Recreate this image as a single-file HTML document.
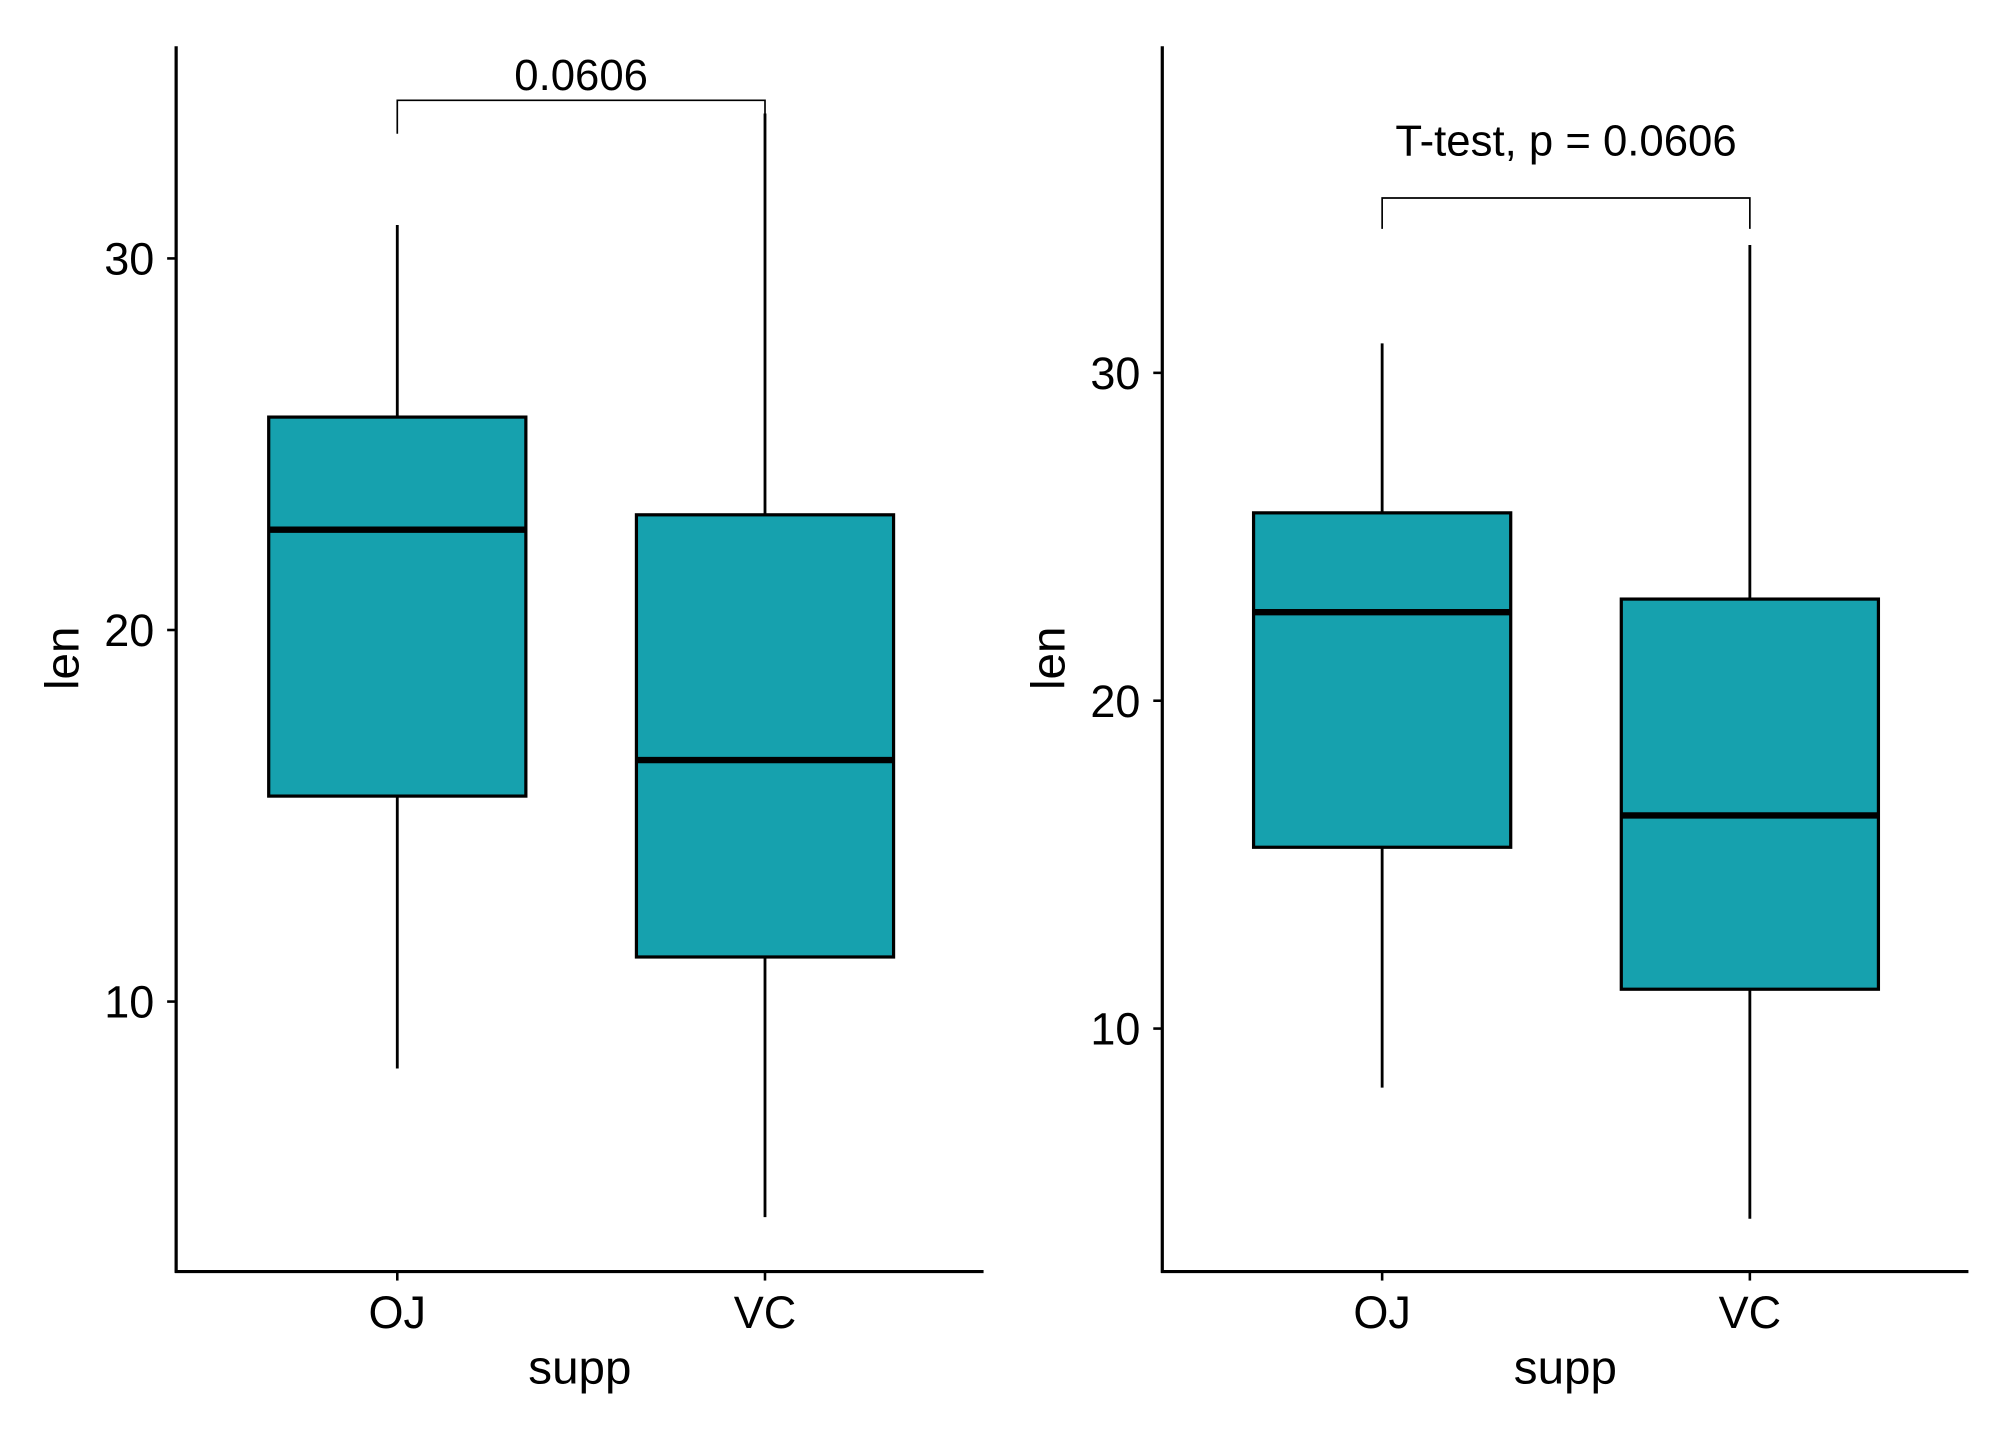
<!DOCTYPE html>
<html><head><meta charset="utf-8"><style>html,body{margin:0;padding:0;background:#fff}svg{display:block}text{font-family:"Liberation Sans",Arial,sans-serif;fill:#000}</style></head>
<body>
<svg id="chart" width="2016" height="1440" viewBox="0 0 1568 1120" xmlns="http://www.w3.org/2000/svg"></svg>
<script>
const categories = ["OJ", "VC"];
const mins = [8.2, 4.2];
const q1s = [15.53, 11.2];
const medians = [22.7, 16.5];
const q3s = [25.73, 23.1];
const maxs = [30.9, 33.9];
const yTicks = [10, 20, 30];
const pLabelLeft = "0.0606";
const pLabelRight = "T-test, p = 0.0606";

const svg = document.getElementById('chart');
const NS = 'http://www.w3.org/2000/svg';
function mk(tag, attrs, parent) {
  const e = document.createElementNS(NS, tag);
  for (const k in attrs) e.setAttribute(k, attrs[k]);
  (parent || svg).appendChild(e);
  return e;
}
const panels = [
  {name: 'left', ax: 137, top: 36, bottom: 989, right: 765, y10: 779, ppu: 28.9, xs: [309, 595], brY: 78, brL: 104, brR: 89, label: pLabelLeft, labelY: 70},
  {name: 'right', ax: 904, top: 36, bottom: 989, right: 1531, y10: 800, ppu: 25.5, xs: [1075, 1361], brY: 154, brL: 178, brR: 178, label: pLabelRight, labelY: 121}
];
panels.forEach(p => {
  const g = mk('g', {});
  
  
  const y = v => p.y10 - (v - 10) * p.ppu;
  categories.forEach((c, i) => {
    const x = p.xs[i];
    const b = mk('g', {}, g);
    
    
    mk('line', {x1: x, x2: x, y1: y(maxs[i]), y2: y(q3s[i]), stroke: '#000', 'stroke-width': 2.2}, b);
    mk('line', {x1: x, x2: x, y1: y(q1s[i]), y2: y(mins[i]), stroke: '#000', 'stroke-width': 2.2}, b);
    mk('rect', {x: x - 100, y: y(q3s[i]), width: 200, height: y(q1s[i]) - y(q3s[i]), fill: '#16a1ae', stroke: '#000', 'stroke-width': 2.5}, b);
    mk('line', {x1: x - 100, x2: x + 100, y1: y(medians[i]), y2: y(medians[i]), stroke: '#000', 'stroke-width': 5}, b);
    const t = mk('text', {x: x, y: 1033, 'font-size': 35, 'text-anchor': 'middle'}, g);
    t.textContent = c;
    
    
    mk('line', {x1: x, x2: x, y1: p.bottom, y2: p.bottom + 7, stroke: '#000', 'stroke-width': 2}, g);
  });
  yTicks.forEach(v => {
    mk('line', {x1: p.ax - 7, x2: p.ax, y1: y(v), y2: y(v), stroke: '#000', 'stroke-width': 2}, g);
    const t = mk('text', {x: p.ax - 17, y: y(v) + 12.5, 'font-size': 35, 'text-anchor': 'end'}, g);
    t.textContent = v;
    
    
  });
  const ya = mk('line', {x1: p.ax, x2: p.ax, y1: p.top, y2: p.bottom + 1, stroke: '#000', 'stroke-width': 2.5}, g);
  
  
  const xa = mk('line', {x1: p.ax - 1, x2: p.right, y1: p.bottom, y2: p.bottom, stroke: '#000', 'stroke-width': 2.5}, g);
  
  
  const xt = mk('text', {x: (p.ax + p.right) / 2, y: 1076, 'font-size': 37, 'text-anchor': 'middle'}, g);
  xt.textContent = 'supp';
  
  
  const yt = mk('text', {x: 0, y: 0, 'font-size': 37, 'text-anchor': 'middle', transform: 'translate(' + (p.ax - 76) + ',512) rotate(-90)'}, g);
  yt.textContent = 'len';
  
  
  const br = mk('path', {d: 'M' + p.xs[0] + ',' + p.brL + 'V' + p.brY + 'H' + p.xs[1] + 'V' + p.brR, fill: 'none', stroke: '#000', 'stroke-width': 1.3}, g);
  
  
  const pl = mk('text', {x: (p.xs[0] + p.xs[1]) / 2, y: p.labelY, 'font-size': 34, 'text-anchor': 'middle'}, g);
  pl.textContent = p.label;
  
  
});
</script>
</body></html>
